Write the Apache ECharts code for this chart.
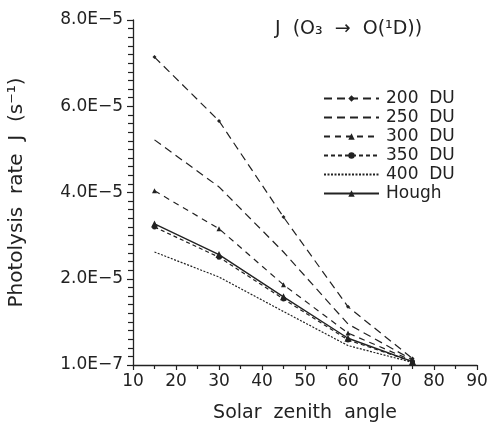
<!DOCTYPE html>
<html><head><meta charset="utf-8">
<script src="https://cdn.jsdelivr.net/npm/echarts@6/dist/echarts.min.js"></script>
<style>html,body{margin:0;padding:0;background:#fff}#c{width:488px;height:425px}</style>
</head><body><div id="c"></div>
<script>
// Solar zenith angles (deg)
const sza = [15, 30, 45, 60, 75];
// Photolysis rates J(O3 -> O(1D)) in s^-1
const du200 = [7.14e-5, 5.66e-5, 3.43e-5, 1.35e-5, 0.15e-5];
const du250 = [5.22e-5, 4.13e-5, 2.62e-5, 0.95e-5, 0.12e-5];
const du300 = [4.04e-5, 3.16e-5, 1.86e-5, 0.74e-5, 0.10e-5];
const du350 = [3.20e-5, 2.50e-5, 1.53e-5, 0.58e-5, 0.08e-5];
const du400 = [2.62e-5, 2.04e-5, 1.24e-5, 0.45e-5, 0.06e-5];
const hough = [3.27e-5, 2.56e-5, 1.58e-5, 0.62e-5, 0.08e-5];
const seriesNames = ['200  DU', '250  DU', '300  DU', '350  DU', '400  DU', 'Hough'];
// y tick labels
const yTickValues = [0, 2e-5, 4e-5, 6e-5, 8e-5];
const yTickLabels = ['1.0E\u22127', '2.0E\u22125', '4.0E\u22125', '6.0E\u22125', '8.0E\u22125'];
const xTickLabels = ['10','20','30','40','50','60','70','80','90'];

const ink = '#222';
const font = 'DejaVu Sans';
function pts(arr){ return sza.map((x,i)=>[x, arr[i]]); }
const styles = [
  {data: du200, type: [8,5], symbol: 'diamond', size: 4, width: 1.2},
  {data: du250, type: [8,5], symbol: 'none', size: 0, width: 1.2},
  {data: du300, type: [6,5], symbol: 'triangle', size: 5, width: 1.2},
  {data: du350, type: [4,3], symbol: 'circle', size: 5, width: 1.2},
  {data: du400, type: [2,1.5], symbol: 'none', size: 0, width: 1.2},
  {data: hough, type: 'solid', symbol: 'triangle', size: 7, width: 1.4}
];
const series = styles.map((s, i) => ({
  name: seriesNames[i], type: 'line', data: pts(s.data),
  symbol: s.symbol, symbolSize: s.size, showSymbol: s.symbol !== 'none',
  lineStyle: {color: ink, width: s.width, type: s.type},
  itemStyle: {color: ink}, animation: false, z: 5 + i
}));
const legendData = styles.map((s, i) => s.symbol === 'none'
  ? {name: seriesNames[i], itemStyle: {opacity: 0}}
  : {name: seriesNames[i]});

const chart = echarts.init(document.getElementById('c'));
chart.setOption({
  backgroundColor: '#fff',
  animation: false,
  title: {
    text: 'J  (O\u2083  \u2192  O(\u00b9D))', left: 270, top: 15,
    textStyle: {fontFamily: font, fontSize: 19, fontWeight: 'normal', color: ink}
  },
  legend: {
    orient: 'vertical', left: 318, top: 85, itemGap: 2,
    itemWidth: 55, itemHeight: 8,
    data: legendData,
    textStyle: {fontFamily: font, fontSize: 17, color: ink, padding: [0,0,0,2]}
  },
  grid: {left: 133, right: 11, top: 20, bottom: 60, outerBoundsMode: 'none', containLabel: false},
  xAxis: {
    type: 'value', min: 10, max: 90, interval: 10,
    name: 'Solar  zenith  angle', nameLocation: 'middle', nameGap: 39,
    nameTextStyle: {fontFamily: font, fontSize: 19, color: ink},
    axisLine: {lineStyle: {color: ink, width: 1.3}},
    axisTick: {show: true, length: 5, inside: false, lineStyle: {color: ink, width: 1.2}},
    minorTick: {show: true, splitNumber: 2, length: 4, lineStyle: {color: ink, width: 1.2}},
    splitLine: {show: false},
    axisLabel: {fontFamily: font, fontSize: 17, color: ink, margin: 8,
      formatter: v => xTickLabels[Math.round((v - 10) / 10)]}
  },
  yAxis: {
    type: 'value', min: 0, max: 8e-5, interval: 2e-5,
    name: 'Photolysis  rate  J  (s\u207b\u00b9)', nameLocation: 'middle', nameGap: 106,
    nameTextStyle: {fontFamily: font, fontSize: 20, color: ink},
    axisLine: {show: true, lineStyle: {color: ink, width: 1.3}},
    axisTick: {show: true, length: 6, lineStyle: {color: ink, width: 1.2}},
    minorTick: {show: true, splitNumber: 10, length: 5, lineStyle: {color: ink, width: 1.2}},
    splitLine: {show: false},
    axisLabel: {fontFamily: font, fontSize: 17, color: ink, margin: 10,
      formatter: v => {
        const i = yTickValues.findIndex(t => Math.abs(t - v) < 1e-9);
        return i >= 0 ? yTickLabels[i] : '';
      }}
  },
  series: series
});
</script></body></html>
